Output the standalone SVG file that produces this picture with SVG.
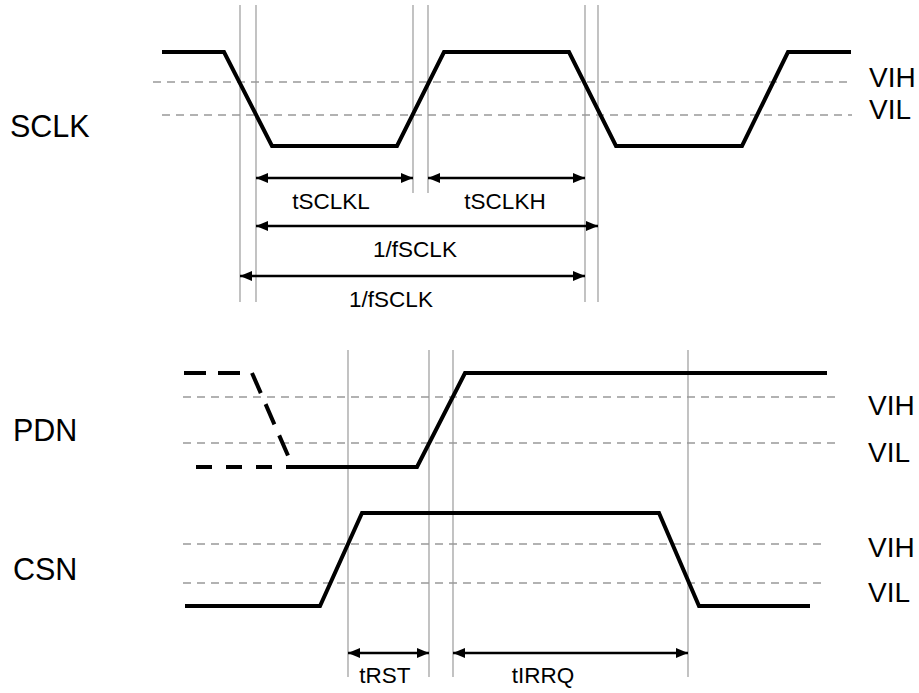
<svg xmlns="http://www.w3.org/2000/svg" width="919" height="693" viewBox="0 0 919 693">
<defs>
<marker id="ah" markerUnits="userSpaceOnUse" markerWidth="14" markerHeight="12" refX="12" refY="5" orient="auto-start-reverse">
<path d="M0,0 L12,5 L0,10 Z" fill="#000"/>
</marker>
<style>
.sig{fill:none;stroke:#000;stroke-width:4;stroke-linejoin:miter}
.sigd{fill:none;stroke:#000;stroke-width:4;stroke-dasharray:22,12}
.lvl{fill:none;stroke:#999;stroke-width:1.5;stroke-dasharray:8,6}
.grid{fill:none;stroke:#9a9a9a;stroke-width:1.2}
.arr{fill:none;stroke:#000;stroke-width:2.5;marker-start:url(#ah);marker-end:url(#ah)}
.big{font-family:"Liberation Sans",Arial,sans-serif;font-size:30.5px;fill:#000}
.lv{font-family:"Liberation Sans",Arial,sans-serif;font-size:28px;fill:#000}
.sm{font-family:"Liberation Sans",Arial,sans-serif;font-size:22.5px;fill:#000;text-anchor:middle}
</style>
</defs>
<rect width="919" height="693" fill="#fff"/>

<g id="guides">
<line class="grid" x1="240" y1="5" x2="240" y2="302"/>
<line class="grid" x1="256" y1="5" x2="256" y2="302"/>
<line class="grid" x1="413" y1="5" x2="413" y2="193"/>
<line class="grid" x1="428" y1="5" x2="428" y2="193"/>
<line class="grid" x1="585" y1="5" x2="585" y2="302"/>
<line class="grid" x1="598" y1="5" x2="598" y2="302"/>
<line class="grid" x1="348" y1="350" x2="348" y2="677"/>
<line class="grid" x1="429" y1="350" x2="429" y2="677"/>
<line class="grid" x1="453" y1="350" x2="453" y2="677"/>
<line class="grid" x1="688" y1="350" x2="688" y2="677"/>
</g>

<g id="sclk">
<line class="lvl" x1="153" y1="82" x2="847" y2="82"/>
<line class="lvl" x1="162" y1="115" x2="852" y2="115"/>
<polyline class="sig" points="162,52 224,52 272,146 397,146 444,52 569,52 616,146 742,146 788,52 851,52"/>
<text class="big" x="10" y="137">SCLK</text>
<text class="lv" x="869" y="87">VIH</text>
<text class="lv" x="869" y="119">VIL</text>
</g>

<g id="pdn">
<line class="lvl" x1="183" y1="397" x2="838" y2="397"/>
<line class="lvl" x1="183" y1="443" x2="838" y2="443"/>
<polyline class="sigd" points="184,373 252,373 293,467"/>
<line class="sigd" x1="196" y1="467" x2="293" y2="467" style="stroke-dasharray:16,14"/>
<polyline class="sig" points="293,467 417,467 465,373 827,373"/>
<text class="big" x="13" y="441">PDN</text>
<text class="lv" x="868" y="415">VIH</text>
<text class="lv" x="868" y="462">VIL</text>
</g>

<g id="csn">
<line class="lvl" x1="183" y1="544" x2="825" y2="544"/>
<line class="lvl" x1="183" y1="583" x2="825" y2="583"/>
<polyline class="sig" points="185,606 320,606 362,513 659,513 699,606 810,606"/>
<text class="big" x="13" y="580">CSN</text>
<text class="lv" x="868" y="557">VIH</text>
<text class="lv" x="868" y="602">VIL</text>
</g>

<g id="connectors">
<line class="arr" x1="256" y1="178" x2="413" y2="178"/>
<line class="arr" x1="428" y1="178" x2="585" y2="178"/>
<line class="arr" x1="256" y1="226" x2="598" y2="226"/>
<line class="arr" x1="240" y1="276" x2="585" y2="276"/>
<line class="arr" x1="348" y1="653" x2="429" y2="653"/>
<line class="arr" x1="453" y1="653" x2="688" y2="653"/>
</g>

<g id="labels">
<text class="sm" x="331" y="209">tSCLKL</text>
<text class="sm" x="505" y="209">tSCLKH</text>
<text class="sm" x="415" y="257">1/fSCLK</text>
<text class="sm" x="391" y="307">1/fSCLK</text>
<text class="sm" x="385" y="683">tRST</text>
<text class="sm" x="543" y="683">tIRRQ</text>
</g>
</svg>
